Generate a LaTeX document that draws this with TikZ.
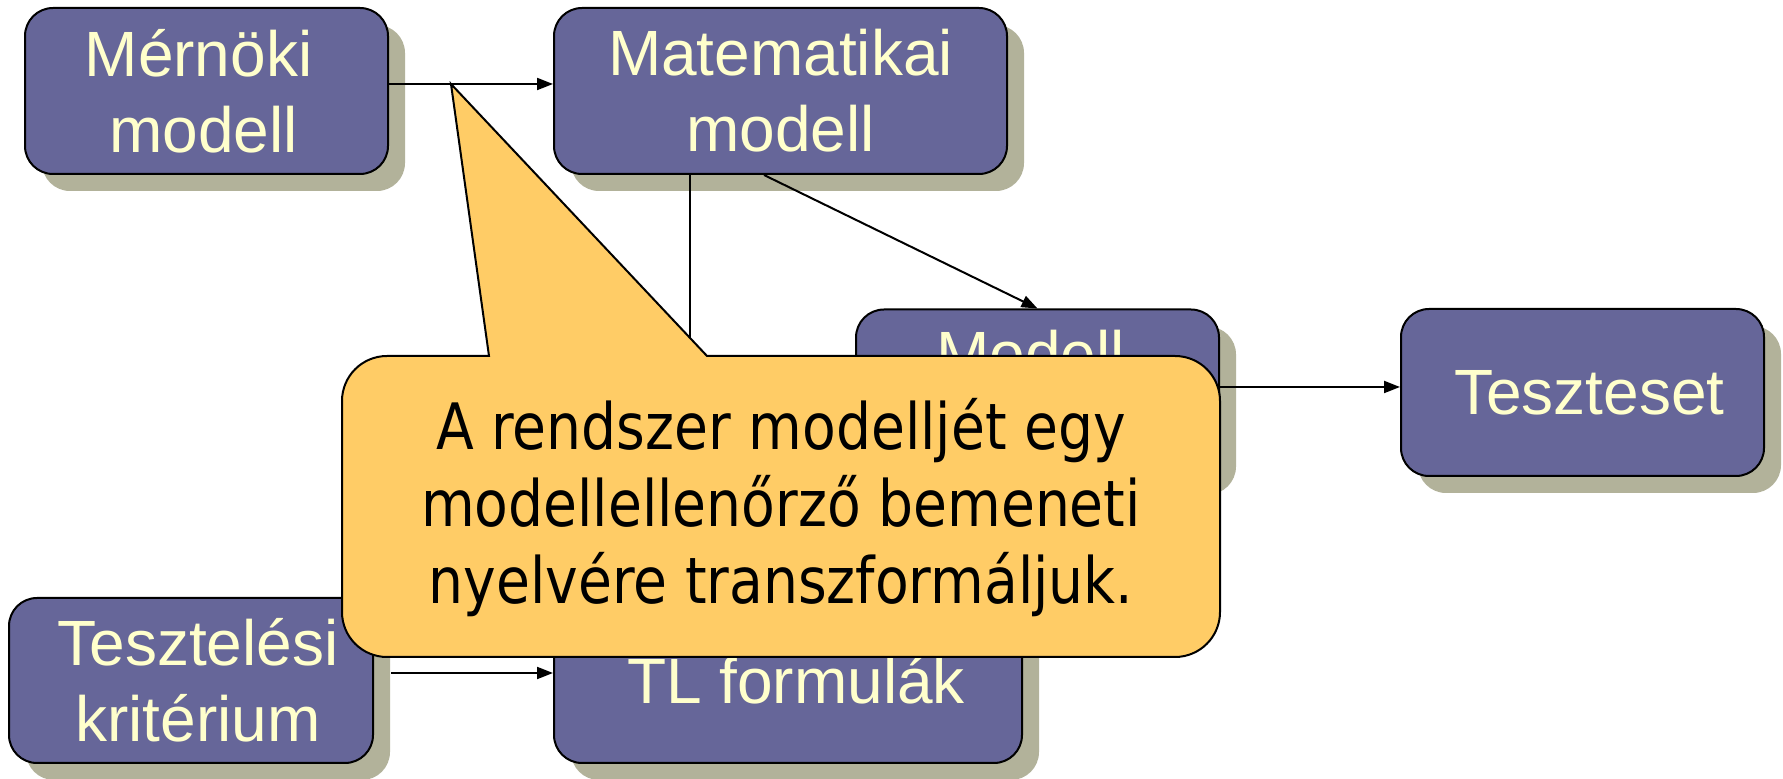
\documentclass[tikz,border=0pt]{standalone}
\usepackage{fontspec}
\setmainfont{Liberation Sans}
\newfontfamily\calloutfont[FakeStretch=0.862]{DejaVu Sans}
\usetikzlibrary{arrows.meta,shadows}
\definecolor{boxfill}{HTML}{666699}
\definecolor{boxtext}{HTML}{FFFFCC}
\definecolor{shadowcol}{HTML}{B2B29A}
\definecolor{callfill}{HTML}{FFCC66}
\begin{document}
\begin{tikzpicture}[x=1pt,y=1pt,
  mbox/.style={draw=black, line width=2pt, fill=boxfill, rounded corners=28pt,
    text=boxtext, font=\fontsize{64}{76}\selectfont, align=center, inner sep=0pt,
    drop shadow={shadow xshift=17pt, shadow yshift=-17pt, fill=shadowcol, opacity=1}},
  boxlabel/.style={text=boxtext, font=\fontsize{64}{76}\selectfont, inner sep=0pt},
  arr/.style={line width=2pt, -{Triangle[length=16pt,width=12pt]}},
  callout/.style={draw=black, line width=2pt, fill=callfill},
  callouttxt/.style={font=\calloutfont\fontsize{64}{77}\selectfont, align=center, inner sep=0pt}
]
\useasboundingbox (0,0) rectangle (1783,779);
\fill[white] (0,0) rectangle (1783,779);

\node[mbox, minimum width=363pt, minimum height=166pt] (mernoki) at (206.5,688) {Mérnöki\hspace*{16pt}\\modell\hspace*{6pt}};
\node[mbox, minimum width=453pt, minimum height=166pt] (matek) at (780.5,688) {Matematikai\\modell};
\node[mbox, minimum width=363pt, minimum height=168pt] (modell) at (1037.5,385.5) {};
\node[boxlabel, anchor=base] (modelltxt) at ([xshift=-7pt,yshift=16.5pt]modell.center) {Modell};
\node[mbox, minimum width=363pt, minimum height=167pt] (teszteset) at (1582.5,386.5) {\hspace*{14pt}Teszteset};
\node[mbox, minimum width=364pt, minimum height=165pt] (kriterium) at (191,98.5) {\hspace*{14pt}Tesztelési\\\hspace*{14pt}kritérium};
\node[mbox, minimum width=468pt, minimum height=165pt] (tl) at (788,98.5) {\hspace*{16pt}TL formulák};

\draw[arr] ([yshift=7pt]mernoki.east) -- ([yshift=7pt]matek.west);
\draw[arr] ([xshift=-16.5pt]matek.south) -- (modell.north);
\draw[arr] ([xshift=-90.5pt]matek.south) -- ([xshift=-90.5pt]matek.south |- tl.north);
\draw[arr] ([yshift=6.5pt]modell.east) -- ([yshift=6.5pt]modell.east -| teszteset.west);
\draw[arr] ([xshift=17pt,yshift=7.5pt]kriterium.east) -- ([yshift=7.5pt]tl.west);

\coordinate (tip) at (451,695);
\path[callout] (489,423) -- (tip) -- (707,423) -- (1175,423)
  arc[start angle=90,end angle=0,radius=45] -- (1220,167)
  arc[start angle=0,end angle=-90,radius=45] -- (387,122)
  arc[start angle=270,end angle=180,radius=45] -- (342,378)
  arc[start angle=180,end angle=90,radius=45] -- cycle;
\node[callouttxt] (note) at (781,271) {A rendszer modelljét egy\\modellellenőrző bemeneti\\nyelvére transzformáljuk.};
\end{tikzpicture}
\end{document}
